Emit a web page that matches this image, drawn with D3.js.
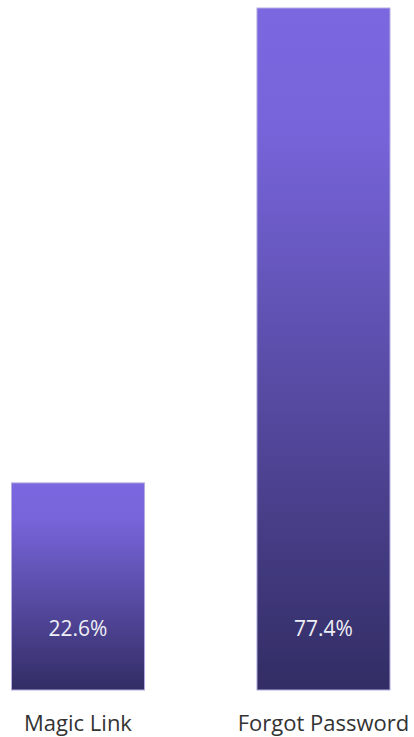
<!DOCTYPE html>
<html>
<head>
<meta charset="utf-8">
<script src="https://cdn.jsdelivr.net/npm/d3@7"></script>
<style>
  html, body { margin: 0; padding: 0; background: #fff; }
  svg { display: block; }
</style>
</head>
<body>
<div id="chart"></div>
<script>
const categories = ["Magic Link", "Forgot Password"];
const values = [22.6, 77.4];
const valueLabels = ["22.6%", "77.4%"];

const width = 414;
const height = 737;

const svg = d3.select("#chart")
  .append("svg")
  .attr("width", width)
  .attr("height", height);

const defs = svg.append("defs");
const grad = defs.append("linearGradient")
  .attr("id", "bar-gradient")
  .attr("x1", 0).attr("y1", 0)
  .attr("x2", 0).attr("y2", 1);
grad.append("stop").attr("offset", "0%").attr("stop-color", "#7b68e1");
grad.append("stop").attr("offset", "18%").attr("stop-color", "#7764da");
grad.append("stop").attr("offset", "100%").attr("stop-color", "#322d64");

const x = d3.scaleBand()
  .domain(categories)
  .range([11.5, 390])
  .paddingInner(0.458)
  .paddingOuter(0);

const y = d3.scaleLinear()
  .domain([-1.3, d3.max(values)])
  .range([690, 8]);

const data = categories.map((c, i) => ({ cat: c, value: values[i], label: valueLabels[i] }));

svg.selectAll("rect.bar")
  .data(data)
  .join("rect")
  .attr("class", "bar")
  .attr("x", d => x(d.cat))
  .attr("y", d => y(d.value))
  .attr("width", x.bandwidth())
  .attr("height", d => y(-1.3) - y(d.value))
  .attr("fill", "url(#bar-gradient)")
  .attr("stroke", "#b4aee0")
  .attr("stroke-width", 1);

svg.selectAll("text.value")
  .data(data)
  .join("text")
  .attr("class", "value")
  .attr("x", d => x(d.cat) + x.bandwidth() / 2)
  .attr("y", 636)
  .attr("text-anchor", "middle")
  .style("font-family", "'Open Sans', sans-serif")
  .style("font-size", "21px")
  .style("fill", "#eeeef6")
  .text(d => d.label);

svg.selectAll("text.cat")
  .data(data)
  .join("text")
  .attr("class", "cat")
  .attr("x", d => x(d.cat) + x.bandwidth() / 2)
  .attr("y", 731)
  .attr("text-anchor", "middle")
  .style("font-family", "'Open Sans', sans-serif")
  .style("font-size", "22px")
  .style("fill", "#333")
  .text(d => d.cat);
</script>
</body>
</html>
